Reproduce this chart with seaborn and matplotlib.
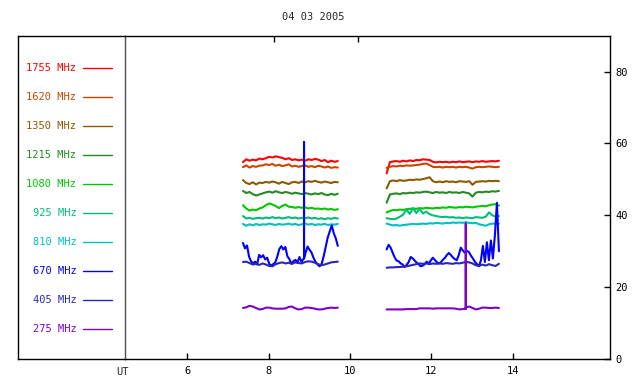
import numpy as np
import pandas as pd
import matplotlib
matplotlib.use("Agg")
import matplotlib.pyplot as plt
import seaborn as sns

# ---------------- data ----------------
title = "04 03 2005"
freqs = ["1755", "1620", "1350", "1215", "1080", "925", "810", "670", "405", "275"]
colors = ["#ff0000", "#c84600", "#8c5a00", "#228b22", "#00c800",
          "#00be78", "#00c0c0", "#0000ff", "#2828b4", "#8000c8"]
x_ticks = [6, 8, 10, 12, 14]
y_ticks = [0, 20, 40, 60, 80]
top_ticks = [8.14, 10.2]

seg_a = (7.37, 9.70)     # first observing window (UT hours)
seg_b = (10.90, 13.66)   # second observing window

f1755_a = [54.8, 55.6, 55.2, 55.5, 55.3, 55.8, 55.6, 55.9, 56.3, 56.1, 56.4, 56.2, 56.0, 55.6, 55.9,
           55.4, 55.6, 55.3, 55.5, 55.2, 55.6, 55.4, 55.7, 55.5, 55.1, 55.4, 54.8, 55.2, 54.9, 55.1]
f1620_a = [53.4, 53.9, 53.3, 53.7, 53.5, 53.8, 53.9, 54.2, 54.0, 54.3, 53.8, 54.1, 53.7, 53.9, 54.2,
           53.6, 53.8, 53.5, 53.7, 53.9, 53.5, 53.7, 53.4, 53.8, 53.6, 53.3, 53.6, 53.2, 53.4, 53.3]
f1350_a = [49.8, 49.0, 48.7, 49.2, 48.6, 49.1, 49.0, 49.3, 49.1, 49.4, 49.2, 48.8, 49.3, 49.0, 48.7,
           49.2, 49.3, 49.0, 49.4, 49.2, 49.5, 49.3, 49.6, 49.3, 49.1, 49.4, 49.2, 49.0, 49.3, 49.2]
f1215_a = [46.8, 46.2, 46.5, 45.9, 45.5, 45.8, 46.1, 46.4, 46.6, 46.3, 46.7, 46.4, 46.2, 46.5, 46.3,
           46.0, 46.3, 46.1, 45.9, 46.2, 46.0, 45.8, 46.1, 45.9, 46.2, 45.8, 45.6, 46.0, 45.7, 46.0]
f1080_a = [42.8, 41.9, 41.3, 41.6, 41.4, 41.9, 42.2, 42.8, 43.3, 43.0, 42.6, 42.0, 42.6, 43.0, 42.4,
           42.3, 42.1, 42.3, 42.1, 42.2, 41.9, 42.1, 41.8, 41.9, 41.7, 41.9, 41.6, 41.8, 41.5, 41.7]
f925_a = [39.8, 39.1, 39.3, 39.0, 39.2, 39.3, 39.1, 39.4, 39.2, 39.5, 39.2, 39.4, 39.1, 39.3, 39.5,
          39.2, 39.4, 39.1, 39.3, 39.2, 39.4, 39.1, 39.3, 39.0, 39.2, 38.9, 39.2, 39.0, 39.3, 39.1]
f810_a = [37.6, 37.1, 37.5, 37.2, 37.6, 37.3, 37.5, 37.4, 37.7, 37.5, 37.3, 37.6, 37.4, 37.5, 37.7,
          37.4, 37.6, 37.3, 37.5, 37.7, 37.4, 37.6, 37.3, 37.5, 37.4, 37.6, 37.3, 37.5, 37.4, 37.6]
f670_a = [32.3, 30.8, 31.6, 28.5, 27.2, 26.6, 27.1, 26.3, 29.0, 28.3, 28.9, 27.7, 28.2, 26.5, 26.0,
          26.4, 26.9, 28.5, 30.6, 31.4, 30.5, 31.2, 28.6, 27.8, 26.5, 27.2, 27.6, 26.8, 28.4, 27.0,
          27.9, 29.5, 31.3, 30.4, 29.6, 28.1, 27.0, 26.3, 25.8, 26.5, 28.6, 31.2, 33.8, 35.5, 37.2,
          35.0, 33.6, 31.5]
f405_a = [27.0, 27.1, 26.7, 26.3, 26.5, 26.2, 26.6, 26.3, 25.9, 25.8, 26.4, 26.7, 26.9, 26.6, 26.8,
          26.5, 26.9, 26.7, 26.6, 27.0, 27.2, 27.1, 26.8, 26.4, 26.1, 26.3, 26.6, 26.9, 27.0, 27.1]
f275_a = [14.2, 14.4, 14.8, 14.6, 14.2, 13.8, 13.9, 14.3, 14.3, 14.1, 14.0, 14.0, 14.0, 14.1, 14.5,
          14.6, 14.1, 13.8, 13.9, 14.3, 14.3, 14.2, 14.0, 13.8, 13.8, 14.0, 14.2, 14.3, 14.2, 14.3]

f1755_b = [51.7, 54.8, 55.0, 55.1, 54.9, 55.2, 55.0, 55.3, 55.1, 55.4, 55.3, 55.6, 55.5, 55.4, 54.9,
           54.7, 54.9, 54.8, 54.9, 54.7, 54.9, 54.8, 55.0, 54.8, 54.9, 55.0, 54.8, 55.0, 54.9, 55.1,
           54.9, 55.0, 55.1, 55.0, 55.2]
f1620_b = [53.2, 53.5, 53.7, 53.6, 53.8, 53.7, 53.9, 53.8, 53.9, 54.0, 54.1, 54.3, 54.4, 54.0, 53.5,
           53.4, 53.5, 53.3, 53.5, 53.4, 53.5, 53.3, 53.5, 53.4, 53.5, 53.3, 53.0, 53.4, 53.5, 53.4,
           53.5, 53.6, 53.5, 53.4, 53.5]
f1350_b = [47.5, 49.5, 49.7, 49.5, 49.8, 49.6, 49.7, 49.9, 49.8, 50.0, 49.9, 50.1, 50.3, 50.6, 49.5,
           49.2, 49.4, 49.2, 49.5, 49.3, 49.4, 49.2, 49.5, 49.4, 49.3, 49.5, 48.5, 49.3, 49.4, 49.5,
           49.4, 49.6, 49.5, 49.6, 49.5]
f1215_b = [43.5, 45.8, 46.0, 46.1, 45.9, 46.2, 46.1, 46.3, 46.2, 46.4, 46.3, 46.5, 46.6, 46.4, 46.2,
           46.5, 46.3, 46.4, 46.2, 46.5, 46.3, 46.4, 46.2, 46.5, 46.3, 46.1, 45.2, 46.3, 46.5, 46.4,
           46.6, 46.5, 46.7, 46.6, 46.8]
f1080_b = [40.8, 41.2, 41.5, 41.4, 41.6, 41.5, 41.7, 41.8, 41.9, 41.8, 42.0, 41.9, 42.1, 42.0, 41.9,
           42.1, 42.0, 42.2, 42.1, 42.3, 42.2, 42.1, 42.3, 42.2, 42.4, 42.3, 42.2, 42.4, 42.5, 42.6,
           42.5, 42.8, 43.0, 43.1, 42.7]
f925_b = [39.2, 39.0, 38.9, 39.1, 39.6, 40.2, 41.6, 40.4, 42.0, 40.6, 41.8, 40.5, 41.0, 40.3, 40.0,
          39.8, 39.6, 39.5, 39.6, 39.4, 39.5, 39.3, 39.4, 39.2, 39.4, 39.3, 39.2, 39.5, 39.4, 39.3,
          39.6, 40.8, 40.0, 39.6, 39.8]
f810_b = [37.7, 37.4, 37.2, 37.3, 37.1, 37.3, 37.4, 37.5, 37.6, 37.5, 37.6, 37.7, 37.6, 37.8, 37.7,
          37.9, 37.8, 37.7, 37.9, 37.8, 38.0, 37.9, 38.0, 37.9, 38.1, 37.9, 37.8, 37.9, 37.5, 37.3,
          37.1, 37.5, 37.7, 37.6, 37.7]
f670_b = [30.5, 31.8, 31.0, 29.6, 28.3, 27.4, 27.2, 26.6, 26.3, 25.6, 26.2, 27.0, 28.4, 28.0, 27.4,
          26.8, 26.4, 25.8, 26.0, 26.4, 27.1, 26.6, 27.4, 28.2, 27.6, 27.0, 26.6, 26.9, 27.6, 28.1,
          28.9, 29.5, 29.0, 28.3, 27.8, 27.5, 29.0, 31.0, 30.2, 29.6, 30.1, 29.8, 28.8, 28.0, 27.1,
          26.4, 25.8, 27.4, 31.5, 27.0, 32.5, 27.5, 33.0, 28.0, 34.5, 43.5, 30.0]
f405_b = [25.4, 25.5, 25.5, 25.6, 25.6, 25.7, 25.8, 26.0, 26.2, 26.4, 26.6, 26.5, 26.6, 26.4, 26.6,
          26.5, 26.6, 26.5, 26.7, 26.6, 26.5, 26.7, 26.6, 26.8, 27.0, 26.9, 26.6, 26.1, 25.9, 26.3,
          26.0, 26.4, 26.1, 25.9, 26.5]
f275_b = [13.8, 13.8, 13.8, 13.8, 13.8, 13.8, 13.9, 13.9, 13.9, 13.9, 14.1, 14.1, 14.1, 14.1, 14.0,
          14.1, 14.1, 14.1, 14.1, 14.1, 14.1, 14.0, 13.8, 13.9, 14.3, 14.6, 14.2, 13.8, 14.0, 14.3,
          14.3, 14.2, 14.2, 14.3, 14.2]

# isolated spikes: (time, base value, peak value)
spike_670_a = (8.87, 28.0, 60.4)
spike_275_b = (12.845, 14.0, 37.7)

series_a = [f1755_a, f1620_a, f1350_a, f1215_a, f1080_a, f925_a, f810_a, f670_a, f405_a, f275_a]
series_b = [f1755_b, f1620_b, f1350_b, f1215_b, f1080_b, f925_b, f810_b, f670_b, f405_b, f275_b]
spikes = {("670", "a"): spike_670_a, ("275", "b"): spike_275_b}


def seg_frame(freq, seg, rng, vals):
    t = np.linspace(rng[0], rng[1], len(vals))
    v = np.asarray(vals, dtype=float)
    sp = spikes.get((freq, seg))
    if sp is not None:
        st, base, peak = sp
        k = int(np.searchsorted(t, st))
        t = np.insert(t, k, [st, st, st])
        v = np.insert(v, k, [base, peak, base])
    return pd.DataFrame({"t": t, "v": v, "freq": freq, "seg": seg})


frames = []
for f, va, vb in zip(freqs, series_a, series_b):
    frames.append(seg_frame(f, "a", seg_a, va))
    frames.append(seg_frame(f, "b", seg_b, vb))
df = pd.concat(frames, ignore_index=True)

# ---------------- figure ----------------
sns.set_style("white")
FONT = "DejaVu Sans Mono"
plt.rcParams["font.family"] = [FONT, "DejaVu Sans"]
FS = 7.5

W, Hh = 640, 384
fig = plt.figure(figsize=(W / 100, Hh / 100), dpi=100)
left_px, split_px, right_px = 18, 125, 610
top_px, bot_px = 35.7, 359
B = (Hh - bot_px) / Hh
HT = (bot_px - top_px) / Hh
ax_leg = fig.add_axes([left_px / W, B, (split_px - left_px) / W, HT])
ax = fig.add_axes([split_px / W, B, (right_px - split_px) / W, HT])
ax.patch.set_alpha(0)

palette = dict(zip(freqs, colors))
sns.lineplot(data=df, x="t", y="v", hue="freq", units="seg", estimator=None, sort=False,
             hue_order=freqs, palette=palette, legend=False, lw=1.5, ax=ax)

ax.set_xlim(4.47, 16.39)
ax.set_ylim(0, 90)
ax.set_xlabel("")
ax.set_ylabel("")
ax.set_xticks(x_ticks)
ax.set_xticklabels([str(v) for v in x_ticks])
ax.set_xticks(top_ticks, minor=True)
ax.yaxis.tick_right()
ax.set_yticks(y_ticks)
ax.set_yticklabels([str(v) for v in y_ticks])
ax.tick_params(axis="x", which="major", direction="in", length=4, width=1, pad=5,
               labelsize=FS, colors="black", bottom=True, top=False)
ax.tick_params(axis="x", which="minor", direction="in", length=4, width=1,
               bottom=False, top=True, labelbottom=False, labeltop=False, colors="black")
ax.tick_params(axis="y", direction="in", length=4, width=1, pad=4, labelsize=FS, colors="black",
               left=False, right=True)
for s in ["top", "bottom", "right"]:
    ax.spines[s].set_color("black")
    ax.spines[s].set_linewidth(1)
ax.spines["left"].set_visible(True)
ax.spines["left"].set_color("#505050")
ax.spines["left"].set_linewidth(1)
ax.text(4.42, -13 / (bot_px - top_px), "UT", transform=ax.get_xaxis_transform(),
        ha="center", va="center", fontsize=FS)

# legend panel
ax_leg.set_xlim(0, split_px - left_px)
ax_leg.set_ylim(0, 90)
ax_leg.set_xticks([])
ax_leg.set_yticks([])
for s in ["top", "bottom", "left"]:
    ax_leg.spines[s].set_color("black")
    ax_leg.spines[s].set_linewidth(1)
ax_leg.spines["right"].set_visible(False)
for i, (f, c) in enumerate(zip(freqs, colors)):
    y = 81.0 - 8.07 * i
    ax_leg.text(58.5, y, f"{f} MHz", ha="right", va="center", color=c, fontsize=FS)
    ax_leg.plot([65, 94], [y, y], color=c, lw=1)

fig.text(313 / W, 1 - 17 / Hh, title, ha="center", va="center", fontsize=FS)

fig.savefig("out.png", dpi=100, facecolor="white")
